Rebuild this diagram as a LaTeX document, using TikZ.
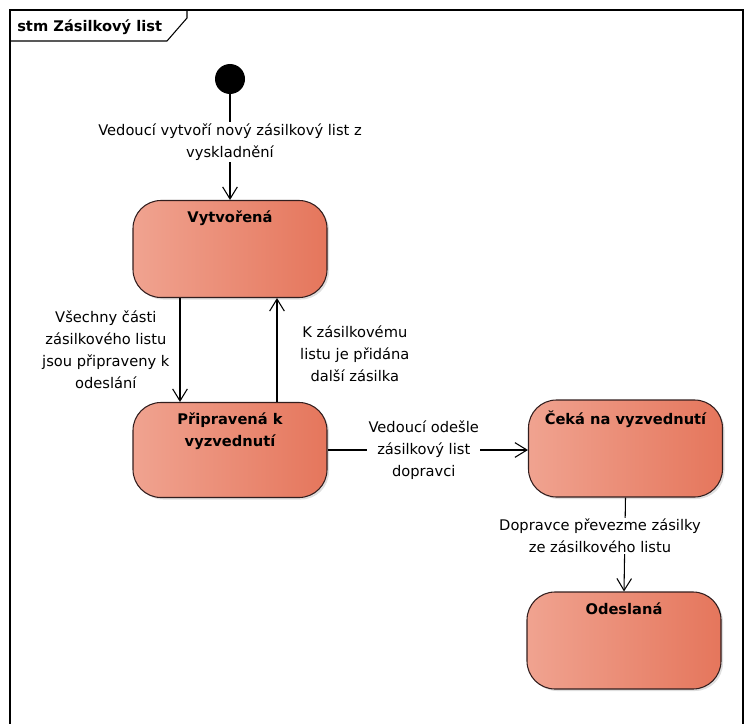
\documentclass[tikz,border=0pt]{standalone}
\usepackage{fontspec}
\setmainfont{DejaVu Sans}
\usetikzlibrary{arrows.meta,shadows}

\definecolor{stateleft}{RGB}{240,163,144}
\definecolor{stateright}{RGB}{229,118,92}
\definecolor{stateedge}{RGB}{50,30,30}

\tikzset{
  statebox/.style={rectangle, rounded corners=21pt, draw=stateedge, line width=0.8pt,
    left color=stateleft, right color=stateright,
    minimum width=145.5pt, minimum height=72.75pt, inner sep=0pt,
    drop shadow={shadow xshift=1.5pt, shadow yshift=-1.5pt, opacity=0.25}},
  statetitle/.style={font=\fontsize{11}{16.5}\selectfont\bfseries, align=center, anchor=north, inner sep=0pt},
  trans/.style={draw=black, line width=0.8pt, -{Straight Barb[length=9pt, width=11pt, line width=0.8pt]}},
  translabel/.style={font=\fontsize{11}{16.5}\selectfont, align=center, inner sep=1pt},
  initial/.style={circle, fill=black, minimum size=22.5pt, inner sep=0pt}
}

\begin{document}
\begin{tikzpicture}[x=0.75pt, y=-0.75pt]
  \useasboundingbox (0,0) rectangle (753,724);
  \clip (0,0) rectangle (753,724);

  % diagram frame and its name tab
  \draw[line width=0.8pt] (10,10) -- (743,10) -- (743,760) -- (10,760) -- cycle;
  \draw[line width=0.8pt] (10,41) -- (167,41) -- (187,18) -- (187,10);
  \node[anchor=west, inner sep=0pt, font=\fontsize{11}{12}\selectfont\bfseries] (frametitle) at (17,27) {stm Zásilkový list};

  % states
  \node[initial] (start) at (230,79) {};
  \node[statebox] (vytvorena) at (230,249) {};
  \node[statebox, minimum height=71.25pt] (pripravena) at (230,450) {};
  \node[statebox] (ceka) at (625.5,448.5) {};
  \node[statebox] (odeslana) at (624,640.5) {};

  \node[statetitle] (t1) at ([yshift=-8pt]vytvorena.north) {Vytvořená};
  \node[statetitle] (t2) at ([yshift=-8pt]pripravena.north) {Připravená k\\vyzvednutí};
  \node[statetitle] (t3) at ([yshift=-8pt]ceka.north) {Čeká na vyzvednutí};
  \node[statetitle] (t4) at ([yshift=-8pt]odeslana.north) {Odeslaná};

  % transitions
  \draw[trans] (start) -- node[translabel, fill=white, pos=0.45] (l1) {Vedoucí vytvoří nový zásilkový list z\\vyskladnění} (vytvorena);

  \draw[trans] ([xshift=-37.5pt]vytvorena.south) -- node[translabel, anchor=east, xshift=-6.5pt] (l2)
    {Všechny části\\zásilkového listu\\jsou připraveny k\\odeslání} ([xshift=-37.5pt]pripravena.north);

  \draw[trans] ([xshift=35.25pt]pripravena.north) -- node[translabel, anchor=west, xshift=16pt, yshift=-3pt] (l3)
    {K zásilkovému\\listu je přidána\\další zásilka} ([xshift=35.25pt]vytvorena.south);

  \draw[trans] (pripravena.east) -- node[translabel, fill=white, pos=0.48] (l4)
    {Vedoucí odešle\\zásilkový list\\dopravci} (pripravena.east -| ceka.west);

  \draw[trans] (ceka.south) -- (odeslana.north);
  \node[translabel, fill=white] (l5) at (600,536) {Dopravce převezme zásilky\\ze zásilkového listu};
\end{tikzpicture}
\end{document}
